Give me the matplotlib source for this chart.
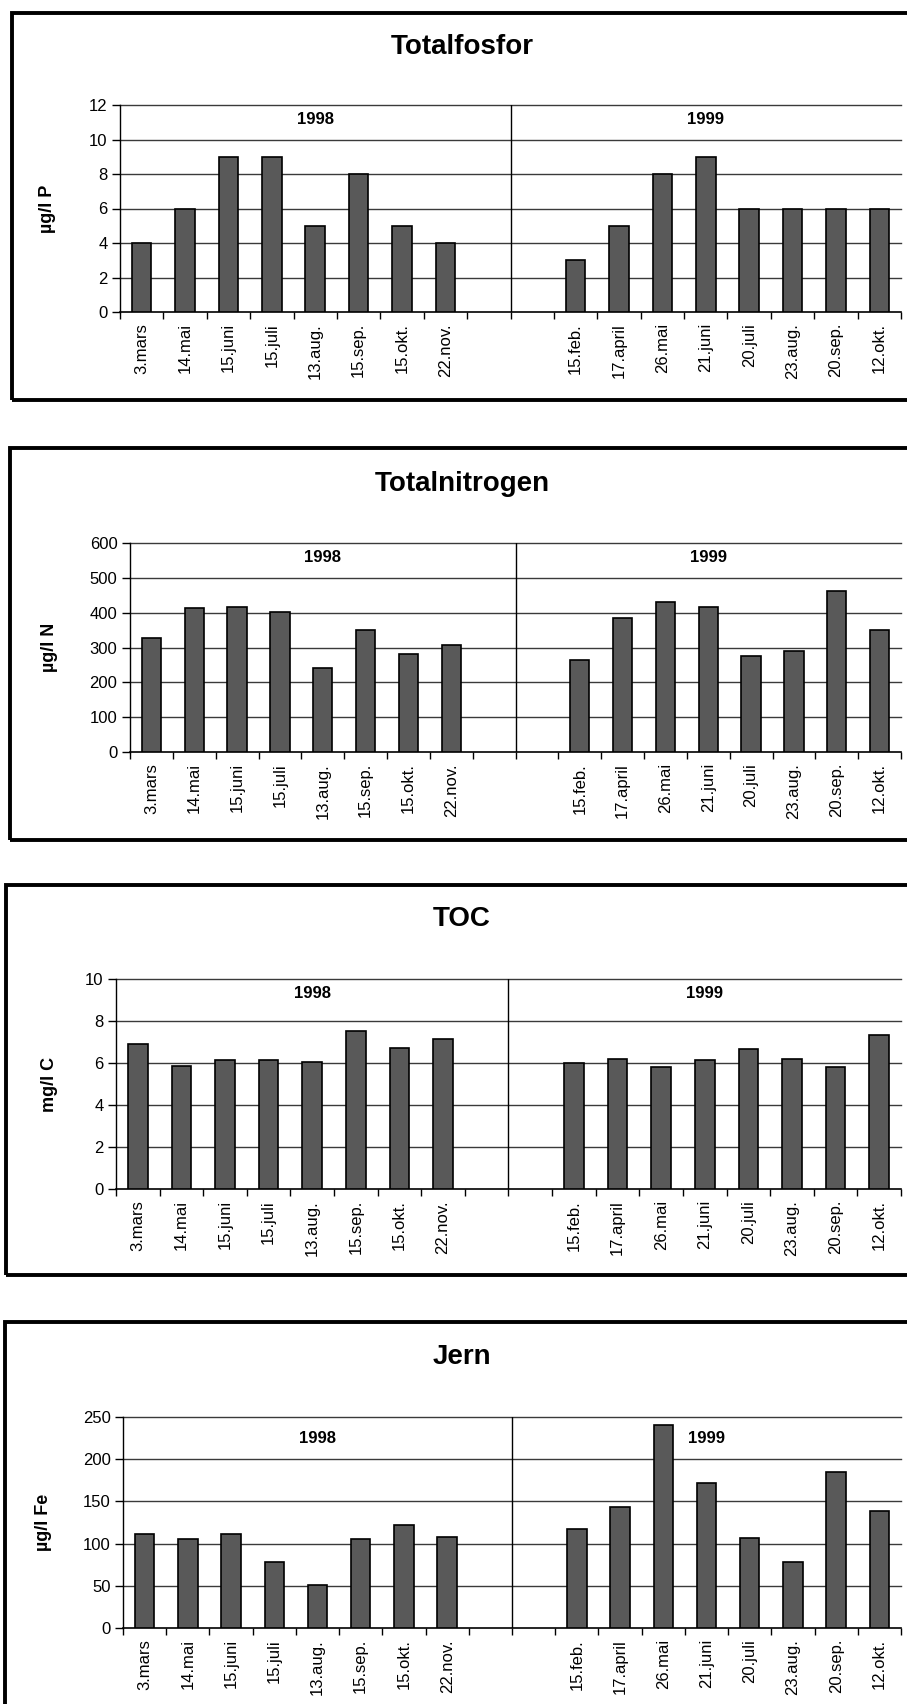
import matplotlib
matplotlib.use('Agg')
import matplotlib.pyplot as plt
from matplotlib.patches import Rectangle
from matplotlib.ticker import FixedLocator, NullFormatter

plt.rcParams['font.family'] = ['Liberation Sans', 'DejaVu Sans']

# datoer
dates_1998 = ['3.mars', '14.mai', '15.juni', '15.juli', '13.aug.', '15.sep.', '15.okt.', '22.nov.']
dates_1999 = ['15.feb.', '17.april', '26.mai', '21.juni', '20.juli', '23.aug.', '20.sep.', '12.okt.']

# verdier
tot_p_1998 = [4, 6, 9, 9, 5, 8, 5, 4]
tot_p_1999 = [3, 5, 8, 9, 6, 6, 6, 6]
tot_n_1998 = [326, 413, 417, 402, 242, 351, 280, 307]
tot_n_1999 = [265, 386, 432, 416, 276, 290, 461, 351]
toc_1998 = [6.9, 5.87, 6.15, 6.16, 6.03, 7.53, 6.73, 7.16]
toc_1999 = [6.02, 6.2, 5.83, 6.12, 6.69, 6.2, 5.83, 7.34]
fe_1998 = [111, 106, 111, 78, 51, 106, 122, 108]
fe_1999 = [117, 143, 241, 172, 107, 78, 185, 139]

W, H = 907, 1704
fig = plt.figure(figsize=(W / 100, H / 100), dpi=100)

# (tittel, enhet, 1998, 1999, ymax, steg, boks topp, boks bunn, akse venstre, akse topp, akse bunn, tittel y, ylabel x, år-y)
panels = [
    ('Totalfosfor', 'µg/l P', tot_p_1998, tot_p_1999, 12, 2, 13, 400, 120, 105, 312, 47, 48, 0.93),
    ('Totalnitrogen', 'µg/l N', tot_n_1998, tot_n_1999, 600, 100, 448, 840, 130, 543, 752, 484, 49, 0.93),
    ('TOC', 'mg/l C', toc_1998, toc_1999, 10, 2, 885, 1275, 116, 979, 1189, 919, 49, 0.93),
    ('Jern', 'µg/l Fe', fe_1998, fe_1999, 250, 50, 1322, 1760, 123, 1417, 1628, 1357, 43, 0.90),
]
box_left = [12, 10, 6, 5]

labels = dates_1998 + ['', ''] + dates_1999
pos_1998 = list(range(8))
pos_1999 = list(range(10, 18))
right = 901

for k, (title, unit, v98, v99, ymax, step, btop, bbot, left, atop, abot, ty, ylx, yy) in enumerate(panels):
    # ramme rundt hver figur
    fig.patches.append(Rectangle((box_left[k] / W, 1 - bbot / H), 1.2, (bbot - btop) / H,
                                 transform=fig.transFigure, fill=False, lw=2.8,
                                 edgecolor='black', clip_on=False))
    fig.text(462 / W, 1 - ty / H, title, ha='center', va='center',
             fontsize=20, fontweight='bold')
    ax = fig.add_axes([left / W, 1 - abot / H, (right - left) / W, (abot - atop) / H])
    ax.bar(pos_1998, v98, width=0.45, color='#595959', edgecolor='black', lw=1.2, zorder=3)
    ax.bar(pos_1999, v99, width=0.45, color='#595959', edgecolor='black', lw=1.2, zorder=3)
    ax.set_xlim(-0.5, 17.5)
    ax.set_ylim(0, ymax)
    ticks = [i * step for i in range(int(round(ymax / step)) + 1)]
    ax.set_yticks(ticks)
    ax.set_yticklabels([str(t) for t in ticks], fontsize=12)
    for t in ticks[1:]:
        ax.axhline(t, color='#3a3a3a', lw=1.0, zorder=1, clip_on=False)
    ax.axvline(8.5, color='black', lw=1.0, zorder=2)
    ax.xaxis.set_major_locator(FixedLocator([i - 0.5 for i in range(19)]))
    ax.xaxis.set_major_formatter(NullFormatter())
    ax.xaxis.set_minor_locator(FixedLocator(list(range(18))))
    ax.set_xticklabels(labels, minor=True, rotation=90, fontsize=12)
    ax.tick_params(axis='x', which='major', length=5, width=1, direction='out')
    ax.tick_params(axis='x', which='minor', length=0, pad=8)
    ax.tick_params(axis='y', length=6, width=1, pad=3)
    for s in ['top', 'right']:
        ax.spines[s].set_visible(False)
    ax.spines['left'].set_linewidth(1.0)
    ax.spines['bottom'].set_linewidth(1.2)
    ax.text(4, ymax * yy, '1998', ha='center', va='center', fontsize=12, fontweight='bold')
    ax.text(13, ymax * yy, '1999', ha='center', va='center', fontsize=12, fontweight='bold')
    fig.text(ylx / W, 1 - (atop + abot) / 2 / H, unit, rotation=90, ha='center', va='center',
             fontsize=13, fontweight='bold')

fig.savefig('out.png', dpi=100)
